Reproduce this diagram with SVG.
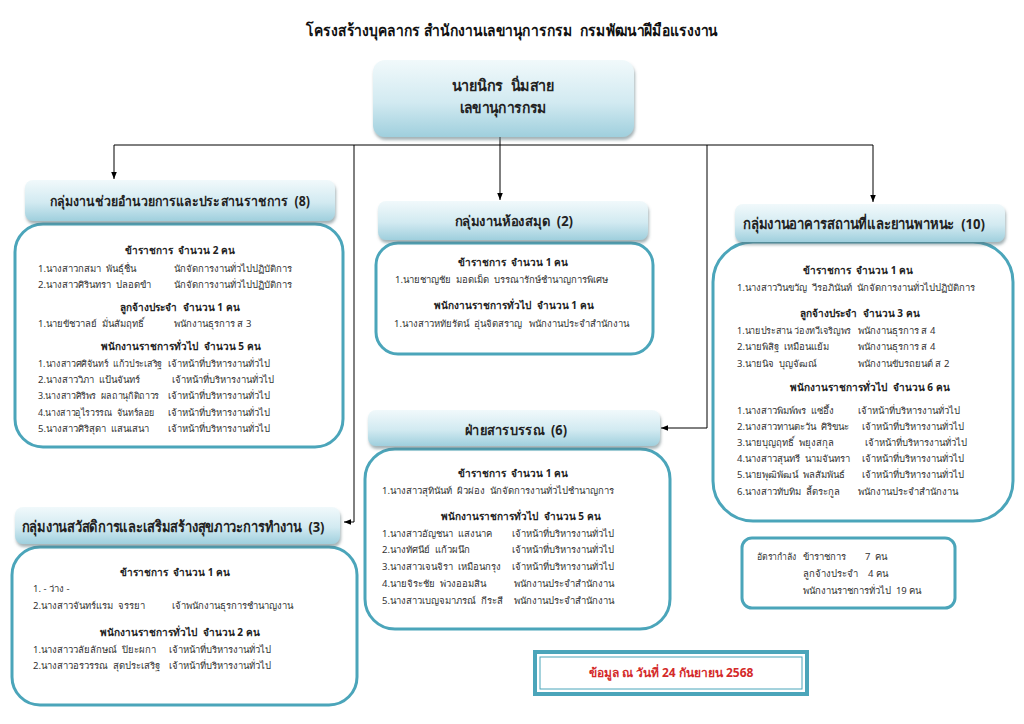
<svg xmlns="http://www.w3.org/2000/svg" width="1024" height="724" viewBox="0 0 1024 724" xml:space="preserve">
<defs>
<linearGradient id="hg" x1="0" y1="0" x2="0" y2="1">
<stop offset="0" stop-color="#f1f9fb"/>
<stop offset="0.55" stop-color="#d2eaf1"/>
<stop offset="1" stop-color="#9fcfdd"/>
</linearGradient>
<filter id="sh" x="-10%" y="-20%" width="120%" height="160%">
<feDropShadow dx="1" dy="3" stdDeviation="1.5" flood-color="#5d747c" flood-opacity="0.55"/>
</filter>
<marker id="ar" viewBox="0 0 10 10" refX="10" refY="5" markerWidth="7" markerHeight="7" orient="auto">
<path d="M0,1 L10,5 L0,9 z" fill="#000"/>
</marker>
<style>
text{font-family:"Noto Sans","DejaVu Sans",sans-serif;fill:#333;white-space:pre}
.title{font-size:16px;font-weight:bold;fill:#111;text-anchor:middle}
.hd{font-size:14px;font-weight:bold;fill:#222;text-anchor:middle}
.top{font-size:15px;font-weight:bold;fill:#222;text-anchor:middle}
.sec{font-size:10px;font-weight:bold;fill:#222;text-anchor:middle}
.t{font-size:9.5px}
.hdr{fill:url(#hg);filter:url(#sh)}
.body{fill:#fff;stroke:#4ba5ba;stroke-width:3}
.ln{fill:none;stroke:#000;stroke-width:1}
.date{font-size:12px;font-weight:bold;fill:#d42a2a;text-anchor:middle}
</style>
</defs>
<rect width="1024" height="724" fill="#fff"/>
<text class="title" x="512" y="36" textLength="412" lengthAdjust="spacingAndGlyphs">โครงสร้างบุคลากร สำนักงานเลขานุการกรม  กรมพัฒนาฝีมือแรงงาน</text>

<g id="connectors">
<path class="ln" d="M500,137 V145"/>
<path class="ln" d="M114,145 H873"/>
<path class="ln" d="M114,145 V179" marker-end="url(#ar)"/>
<path class="ln" d="M500,145 V200" marker-end="url(#ar)"/>
<path class="ln" d="M873,145 V202" marker-end="url(#ar)"/>
<path class="ln" d="M354,145 V522 H344" marker-end="url(#ar)"/>
<path class="ln" d="M707,145 V428 H661" marker-end="url(#ar)"/>
</g>

<g id="top">
<rect class="hdr" x="373" y="60" width="261" height="77" rx="12"/>
<text class="top" x="503" y="91" textLength="103" lengthAdjust="spacingAndGlyphs">นายนิกร  นิ่มสาย</text>
<text class="top" x="503" y="113" textLength="87" lengthAdjust="spacingAndGlyphs">เลขานุการกรม</text>
</g>

<g id="group-admin">
<rect class="body" x="15" y="224" width="328" height="223" rx="28"/>
<rect class="hdr" x="25" y="180" width="310" height="41" rx="8"/>
<text class="hd" x="180" y="206" textLength="260" lengthAdjust="spacingAndGlyphs">กลุ่มงานช่วยอำนวยการและประสานราชการ  (8)</text>
<text class="sec" x="180" y="254">ข้าราชการ  จำนวน 2 คน</text>
<text class="t" x="38" y="272">1.นางสาวกสมา  พันธุ์ชื่น</text><text class="t" x="174" y="272">นักจัดการงานทั่วไปปฏิบัติการ</text>
<text class="t" x="38" y="288">2.นางสาวศิรินทรา  ปลอดขำ</text><text class="t" x="174" y="288">นักจัดการงานทั่วไปปฏิบัติการ</text>
<text class="sec" x="180" y="311">ลูกจ้างประจำ  จำนวน 1 คน</text>
<text class="t" x="38" y="327">1.นายขัชวาลย์  มั่นสัมฤทธิ์</text><text class="t" x="174" y="327">พนักงานธุรการ ส 3</text>
<text class="sec" x="181" y="350">พนักงานราชการทั่วไป  จำนวน 5 คน</text>
<text class="t" x="38" y="367" textLength="124" lengthAdjust="spacingAndGlyphs">1.นางสาวศศิจันทร์  แก้วประเสริฐ</text><text class="t" x="168" y="367">เจ้าหน้าที่บริหารงานทั่วไป</text>
<text class="t" x="38" y="383">2.นางสาววิภา  แป้นจันทร์</text><text class="t" x="172" y="383">เจ้าหน้าที่บริหารงานทั่วไป</text>
<text class="t" x="38" y="399" textLength="121" lengthAdjust="spacingAndGlyphs">3.นางสาวศิริพร  ผลถานุกิติถาวร</text><text class="t" x="168" y="399">เจ้าหน้าที่บริหารงานทั่วไป</text>
<text class="t" x="38" y="416" textLength="117" lengthAdjust="spacingAndGlyphs">4.นางสาวอุไรวรรณ  จันทร์ลอย</text><text class="t" x="168" y="416">เจ้าหน้าที่บริหารงานทั่วไป</text>
<text class="t" x="38" y="432">5.นางสาวศิริสุดา  แสนเสนา</text><text class="t" x="168" y="432">เจ้าหน้าที่บริหารงานทั่วไป</text>
</g>

<g id="group-library">
<rect class="body" x="376" y="243" width="277" height="111" rx="22"/>
<rect class="hdr" x="378" y="201" width="270" height="39" rx="8"/>
<text class="hd" x="514" y="226" textLength="118" lengthAdjust="spacingAndGlyphs">กลุ่มงานห้องสมุด  (2)</text>
<text class="sec" x="513" y="266">ข้าราชการ  จำนวน 1 คน</text>
<text class="t" x="395" y="283">1.นายชาญชัย  มอดเม็ด  บรรณารักษ์ชำนาญการพิเศษ</text>
<text class="sec" x="514" y="309">พนักงานราชการทั่วไป  จำนวน 1 คน</text>
<text class="t" x="394" y="327">1.นางสาวหทัยรัตน์  อุ่นจิตสราญ   พนักงานประจำสำนักงาน</text>
</g>

<g id="group-building">
<rect class="body" x="713" y="242" width="300" height="279" rx="40"/>
<rect class="hdr" x="735" y="204" width="270" height="38" rx="8"/>
<text class="hd" x="864" y="229" style="font-size:15px" textLength="242" lengthAdjust="spacingAndGlyphs">กลุ่มงานอาคารสถานที่และยานพาหนะ  (10)</text>
<text class="sec" x="858" y="274">ข้าราชการ  จำนวน 1 คน</text>
<text class="t" x="737" y="291">1.นางสาววินขวัญ  วีรอภินันท์  นักจัดการงานทั่วไปปฏิบัติการ</text>
<text class="sec" x="860" y="317">ลูกจ้างประจำ  จำนวน 3 คน</text>
<text class="t" x="737" y="334" textLength="114" lengthAdjust="spacingAndGlyphs">1.นายประสาน ว่องทวีเจริญพร</text><text class="t" x="858" y="334">พนักงานธุรการ ส 4</text>
<text class="t" x="737" y="350">2.นายพิสิฐ  เหมือนแย้ม</text><text class="t" x="858" y="350">พนักงานธุรการ ส 4</text>
<text class="t" x="737" y="367">3.นายนิจ  บุญจัฒณ์</text><text class="t" x="858" y="367">พนักงานขับรถยนต์ ส 2</text>
<text class="sec" x="870" y="391">พนักงานราชการทั่วไป  จำนวน 6 คน</text>
<text class="t" x="737" y="414">1.นางสาวพิมพ์พร  แซ่อึ้ง</text><text class="t" x="858" y="414">เจ้าหน้าที่บริหารงานทั่วไป</text>
<text class="t" x="737" y="430">2.นางสาวทานตะวัน  ศิริขนะ</text><text class="t" x="862" y="430">เจ้าหน้าที่บริหารงานทั่วไป</text>
<text class="t" x="737" y="446">3.นายบุญฤทธิ์  พยุงสกุล</text><text class="t" x="865" y="446">เจ้าหน้าที่บริหารงานทั่วไป</text>
<text class="t" x="737" y="462">4.นางสาวสุนทรี  นามจันทรา</text><text class="t" x="862" y="462">เจ้าหน้าที่บริหารงานทั่วไป</text>
<text class="t" x="737" y="478">5.นายพุฒิพัฒน์  พลสัมพันธ์</text><text class="t" x="862" y="478">เจ้าหน้าที่บริหารงานทั่วไป</text>
<text class="t" x="737" y="495">6.นางสาวทับทิม  ลี้ตระกูล</text><text class="t" x="858" y="495">พนักงานประจำสำนักงาน</text>
</g>

<g id="group-records">
<rect class="body" x="365" y="449" width="305" height="180" rx="30"/>
<rect class="hdr" x="368" y="410" width="292" height="36" rx="8"/>
<text class="hd" x="516" y="435" textLength="102" lengthAdjust="spacingAndGlyphs">ฝ่ายสารบรรณ  (6)</text>
<text class="sec" x="513" y="477">ข้าราชการ  จำนวน 1 คน</text>
<text class="t" x="382" y="494">1.นางสาวสุทินันท์  ผิวผ่อง  นักจัดการงานทั่วไปชำนาญการ</text>
<text class="sec" x="521" y="520">พนักงานราชการทั่วไป  จำนวน 5 คน</text>
<text class="t" x="382" y="537">1.นางสาวอัญชนา  แสงนาค</text><text class="t" x="512" y="537">เจ้าหน้าที่บริหารงานทั่วไป</text>
<text class="t" x="382" y="553">2.นางทัศนีย์  แก้วผนึก</text><text class="t" x="512" y="553">เจ้าหน้าที่บริหารงานทั่วไป</text>
<text class="t" x="382" y="570">3.นางสาวเจนจิรา  เหมือนกรุง</text><text class="t" x="512" y="570">เจ้าหน้าที่บริหารงานทั่วไป</text>
<text class="t" x="382" y="587">4.นายจิระชัย  พ่วงออมสิน</text><text class="t" x="514" y="587">พนักงานประจำสำนักงาน</text>
<text class="t" x="382" y="604">5.นางสาวเบญจมาภรณ์  กีระสี</text><text class="t" x="514" y="604">พนักงานประจำสำนักงาน</text>
</g>

<g id="group-welfare">
<rect class="body" x="12" y="547" width="345" height="158" rx="28"/>
<rect class="hdr" x="15" y="507" width="325" height="37" rx="8"/>
<text class="hd" x="173" y="532" style="font-size:15px" textLength="303" lengthAdjust="spacingAndGlyphs">กลุ่มงานสวัสดิการและเสริมสร้างสุขภาวะการทำงาน  (3)</text>
<text class="sec" x="175" y="576">ข้าราชการ  จำนวน 1 คน</text>
<text class="t" x="33" y="592">1. - ว่าง -</text>
<text class="t" x="33" y="609">2.นางสาวจันทร์แรม  จรรยา</text><text class="t" x="172" y="609">เจ้าพนักงานธุรการชำนาญงาน</text>
<text class="sec" x="180" y="636">พนักงานราชการทั่วไป  จำนวน 2 คน</text>
<text class="t" x="33" y="653">1.นางสาววลัยลักษณ์  ปิยะผกา</text><text class="t" x="169" y="653">เจ้าหน้าที่บริหารงานทั่วไป</text>
<text class="t" x="33" y="669">2.นางสาวอรวรรณ  สุดประเสริฐ</text><text class="t" x="169" y="669">เจ้าหน้าที่บริหารงานทั่วไป</text>
</g>

<g id="summary">
<rect x="742" y="538" width="213" height="70" rx="10" fill="#fff" stroke="#4ba5ba" stroke-width="3"/>
<text class="t" x="757" y="560" textLength="40" lengthAdjust="spacingAndGlyphs">อัตรากำลัง</text>
<text class="t" x="803" y="560">ข้าราชการ</text><text class="t" x="865" y="560">7  คน</text>
<text class="t" x="803" y="577">ลูกจ้างประจำ</text><text class="t" x="868" y="577">4 คน</text>
<text class="t" x="803" y="594">พนักงานราชการทั่วไป  19 คน</text>
</g>

<g id="date">
<rect x="535" y="652" width="272" height="42" fill="#fff" stroke="#4ba5ba" stroke-width="4"/>
<rect x="540" y="657" width="262" height="32" fill="none" stroke="#4ba5ba" stroke-width="1"/>
<text class="date" x="671" y="677">ข้อมูล ณ วันที่ 24 กันยายน 2568</text>
</g>
</svg>
